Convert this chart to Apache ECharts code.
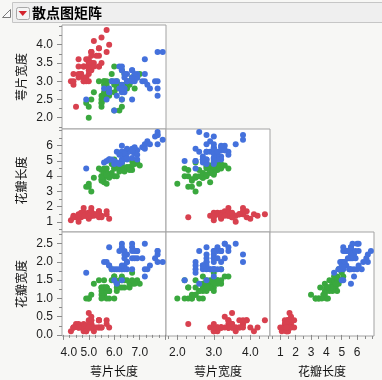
<!DOCTYPE html>
<html><head><meta charset="utf-8">
<script src="https://cdn.jsdelivr.net/npm/echarts@6/dist/echarts.min.js"></script>
<style>html,body{margin:0;padding:0;background:#f7f7f5}#c{width:382px;height:380px}</style>
</head><body><div id="c"></div>
<script>
// ---- data (Fisher iris) ----
const sepalLength = [5.1,4.9,4.7,4.6,5.0,5.4,4.6,5.0,4.4,4.9,5.4,4.8,4.8,4.3,5.8,5.7,5.4,5.1,5.7,5.1,5.4,5.1,4.6,5.1,4.8,5.0,5.0,5.2,5.2,4.7,4.8,5.4,5.2,5.5,4.9,5.0,5.5,4.9,4.4,5.1,5.0,4.5,4.4,5.0,5.1,4.8,5.1,4.6,5.3,5.0,
7.0,6.4,6.9,5.5,6.5,5.7,6.3,4.9,6.6,5.2,5.0,5.9,6.0,6.1,5.6,6.7,5.6,5.8,6.2,5.6,5.9,6.1,6.3,6.1,6.4,6.6,6.8,6.7,6.0,5.7,5.5,5.5,5.8,6.0,5.4,6.0,6.7,6.3,5.6,5.5,5.5,6.1,5.8,5.0,5.6,5.7,5.7,6.2,5.1,5.7,
6.3,5.8,7.1,6.3,6.5,7.6,4.9,7.3,6.7,7.2,6.5,6.4,6.8,5.7,5.8,6.4,6.5,7.7,7.7,6.0,6.9,5.6,7.7,6.3,6.7,7.2,6.2,6.1,6.4,7.2,7.4,7.9,6.4,6.3,6.1,7.7,6.3,6.4,6.0,6.9,6.7,6.9,5.8,6.8,6.7,6.7,6.3,6.5,6.2,5.9];
const sepalWidth = [3.5,3.0,3.2,3.1,3.6,3.9,3.4,3.4,2.9,3.1,3.7,3.4,3.0,3.0,4.0,4.4,3.9,3.5,3.8,3.8,3.4,3.7,3.6,3.3,3.4,3.0,3.4,3.5,3.4,3.2,3.1,3.4,4.1,4.2,3.1,3.2,3.5,3.6,3.0,3.4,3.5,2.3,3.2,3.5,3.8,3.0,3.8,3.2,3.7,3.3,
3.2,3.2,3.1,2.3,2.8,2.8,3.3,2.4,2.9,2.7,2.0,3.0,2.2,2.9,2.9,3.1,3.0,2.7,2.2,2.5,3.2,2.8,2.5,2.8,2.9,3.0,2.8,3.0,2.9,2.6,2.4,2.4,2.7,2.7,3.0,3.4,3.1,2.3,3.0,2.5,2.6,3.0,2.6,2.3,2.7,3.0,2.9,2.9,2.5,2.8,
3.3,2.7,3.0,2.9,3.0,3.0,2.5,2.9,2.5,3.6,3.2,2.7,3.0,2.5,2.8,3.2,3.0,3.8,2.6,2.2,3.2,2.8,2.8,2.7,3.3,3.2,2.8,3.0,2.8,3.0,2.8,3.8,2.8,2.8,2.6,3.0,3.4,3.1,3.0,3.1,3.1,3.1,2.7,3.2,3.3,3.0,2.5,3.0,3.4,3.0];
const petalLength = [1.4,1.4,1.3,1.5,1.4,1.7,1.4,1.5,1.4,1.5,1.5,1.6,1.4,1.1,1.2,1.5,1.3,1.4,1.7,1.5,1.7,1.5,1.0,1.7,1.9,1.6,1.6,1.5,1.4,1.6,1.6,1.5,1.5,1.4,1.5,1.2,1.3,1.4,1.3,1.5,1.3,1.3,1.3,1.6,1.9,1.4,1.6,1.4,1.5,1.4,
4.7,4.5,4.9,4.0,4.6,4.5,4.7,3.3,4.6,3.9,3.5,4.2,4.0,4.7,3.6,4.4,4.5,4.1,4.5,3.9,4.8,4.0,4.9,4.7,4.3,4.4,4.8,5.0,4.5,3.5,3.8,3.7,3.9,5.1,4.5,4.5,4.7,4.4,4.1,4.0,4.4,4.6,4.0,3.3,4.2,4.2,4.2,4.3,3.0,4.1,
6.0,5.1,5.9,5.6,5.8,6.6,4.5,6.3,5.8,6.1,5.1,5.3,5.5,5.0,5.1,5.3,5.5,6.7,6.9,5.0,5.7,4.9,6.7,4.9,5.7,6.0,4.8,4.9,5.6,5.8,6.1,6.4,5.6,5.1,5.6,6.1,5.6,5.5,4.8,5.4,5.6,5.1,5.1,5.9,5.7,5.2,5.0,5.2,5.4,5.1];
const petalWidth = [0.2,0.2,0.2,0.2,0.2,0.4,0.3,0.2,0.2,0.1,0.2,0.2,0.1,0.1,0.2,0.4,0.4,0.3,0.3,0.3,0.2,0.4,0.2,0.5,0.2,0.2,0.4,0.2,0.2,0.2,0.2,0.4,0.1,0.2,0.2,0.2,0.2,0.1,0.2,0.2,0.3,0.3,0.2,0.6,0.4,0.3,0.2,0.2,0.2,0.2,
1.4,1.5,1.5,1.3,1.5,1.3,1.6,1.0,1.3,1.4,1.0,1.5,1.0,1.4,1.3,1.4,1.5,1.0,1.5,1.1,1.8,1.3,1.5,1.2,1.3,1.4,1.4,1.7,1.5,1.0,1.1,1.0,1.2,1.6,1.5,1.6,1.5,1.3,1.3,1.3,1.2,1.4,1.2,1.0,1.3,1.2,1.3,1.3,1.1,1.3,
2.5,1.9,2.1,1.8,2.2,2.1,1.7,1.8,1.8,2.5,2.0,1.9,2.1,2.0,2.4,2.3,1.8,2.2,2.3,1.5,2.3,2.0,2.0,1.8,2.1,1.8,1.8,1.8,2.1,1.6,1.9,2.0,2.2,1.5,1.4,2.3,2.4,1.8,1.8,2.1,2.4,2.3,1.9,2.3,2.5,2.3,1.9,2.0,2.3,1.8];
const species = [0,0,0,0,0,0,0,0,0,0,0,0,0,0,0,0,0,0,0,0,0,0,0,0,0,0,0,0,0,0,0,0,0,0,0,0,0,0,0,0,0,0,0,0,0,0,0,0,0,0,
1,1,1,1,1,1,1,1,1,1,1,1,1,1,1,1,1,1,1,1,1,1,1,1,1,1,1,1,1,1,1,1,1,1,1,1,1,1,1,1,1,1,1,1,1,1,1,1,1,1,
2,2,2,2,2,2,2,2,2,2,2,2,2,2,2,2,2,2,2,2,2,2,2,2,2,2,2,2,2,2,2,2,2,2,2,2,2,2,2,2,2,2,2,2,2,2,2,2,2,2];
const speciesNames = ['setosa','versicolor','virginica'];
const varNames = ['萼片长度','萼片宽度','花瓣长度','花瓣宽度'];
const varData = [sepalLength, sepalWidth, petalLength, petalWidth];
const colVars = [0,1,2];   // columns: x variables
const rowVars = [1,2,3];   // rows: y variables
const title = '散点图矩阵';

// tick labels
const colLabels = [[4,5,6,7],[2,3,4],[1,2,3,4,5,6]];
const colMinor = [[4.25,4.5,4.75,5.25,5.5,5.75,6.25,6.5,6.75,7.25,7.5,7.75,8],
                  [1.75,2.25,2.5,2.75,3.25,3.5,3.75,4.25,4.5],
                  [0.5,1.5,2.5,3.5,4.5,5.5,6.5,7]];
const rowLabels = [[2.0,2.5,3.0,3.5,4.0],[1,2,3,4,5,6],[0.0,0.5,1.0,1.5,2.0,2.5]];
const rowMinor = [[1.75,2.25,2.75,3.25,3.75,4.25,4.5],
                  [0.5,1.5,2.5,3.5,4.5,5.5,6.5,7],
                  [0.25,0.75,1.25,1.75,2.25,2.75]];
const labelDigits = [1,1,0,1];
</script>
<script>
const ranges = [[3.95,8.03],[1.69,4.54],[0.33,7.1],[-0.03,2.82]];
const colors = ['#d8414f','#3aa83e','#4471dc'];
const cellLeft = [62,166,270], cellW = 104;
const cellTop = [25,129,232], cellH = [104,103,104];
const LBL = '"Liberation Sans", Arial, sans-serif';
const CJK = '"Noto Sans CJK SC", sans-serif';
const grids = [], xAxes = [], yAxes = [], series = [], minorX = [], minorY = [];
let gi = 0;
for (let r = 0; r < 3; r++) {
  for (let c = 0; c <= r; c++) {
    const xv = colVars[c], yv = rowVars[r];
    grids.push({left: cellLeft[c], top: cellTop[r], width: cellW, height: cellH[r],
      show: true, backgroundColor: '#ffffff', borderColor: '#a3a3a3', borderWidth: 1});
    const bottom = (r === 2), left = (c === 0);
    const fx = v => {
      const s = v.toFixed(labelDigits[xv]);
      return (c === 0 && v === colLabels[0][0]) ? '{p|' + s + '}' : s;
    };
    const fy = v => v.toFixed(labelDigits[yv]);
    xAxes.push({type: 'value', gridIndex: gi, position: 'bottom', min: ranges[xv][0], max: ranges[xv][1],
      axisLine: {show: false}, splitLine: {show: false},
      axisTick: {show: bottom, customValues: colLabels[c].concat(c===0?[8]:[]), length: 5, lineStyle: {color: '#8a8a8a'}},
      axisLabel: {show: bottom, customValues: colLabels[c], formatter: fx, margin: 11,
        fontSize: 12, color: '#1e1e1e', fontFamily: LBL,
        rich: {p: {padding: [0,0,0,11], fontSize: 12, color: '#1e1e1e', fontFamily: LBL}}},
      name: bottom ? varNames[xv] : '', nameLocation: 'middle', nameGap: 29,
      nameTextStyle: {fontSize: 12, color: '#111', fontFamily: CJK}
    });
    yAxes.push({type: 'value', gridIndex: gi, position: 'left', min: ranges[yv][0], max: ranges[yv][1],
      axisLine: {show: false}, splitLine: {show: false},
      axisTick: {show: left, customValues: rowLabels[r], length: 5, lineStyle: {color: '#8a8a8a'}},
      axisLabel: {show: left, customValues: rowLabels[r], formatter: fy, margin: 9,
        fontSize: 12, color: '#1e1e1e', fontFamily: LBL},
      name: left ? varNames[yv] : '', nameLocation: 'middle', nameGap: 35, nameRotate: 90,
      nameTextStyle: {fontSize: 12, color: '#111', fontFamily: CJK}
    });
    if (bottom) minorX.push({type: 'value', gridIndex: gi, position: 'bottom', min: ranges[xv][0], max: ranges[xv][1],
      axisLine: {show: false}, splitLine: {show: false}, axisLabel: {show: false},
      axisTick: {show: true, customValues: colMinor[c], length: 3, lineStyle: {color: '#8a8a8a'}}});
    if (left) minorY.push({type: 'value', gridIndex: gi, position: 'left', min: ranges[yv][0], max: ranges[yv][1],
      axisLine: {show: false}, splitLine: {show: false}, axisLabel: {show: false},
      axisTick: {show: true, customValues: rowMinor[r], length: 3, lineStyle: {color: '#8a8a8a'}}});
    for (let s = 0; s < 3; s++) {
      const pts = [];
      for (let k = 0; k < species.length; k++) if (species[k] === s) pts.push([varData[xv][k], varData[yv][k]]);
      series.push({type: 'scatter', name: speciesNames[s], xAxisIndex: gi, yAxisIndex: gi, data: pts,
        symbolSize: 6, itemStyle: {color: colors[s], opacity: 1}, silent: true});
    }
    gi++;
  }
}
const chart = echarts.init(document.getElementById('c'), null, {renderer: 'canvas'});
chart.setOption({
  animation: false,
  backgroundColor: '#f7f7f5',
  grid: grids,
  xAxis: xAxes.concat(minorX),
  yAxis: yAxes.concat(minorY),
  series: series,
  graphic: [
    {type: 'rect', shape: {x: 12.5, y: 2.5, width: 372, height: 20}, style: {fill: '#efefef', stroke: '#c6c6c6', lineWidth: 1}},
    {type: 'polygon', shape: {points: [[2.5,17.5],[10.5,17.5],[10.5,9.5]]}, style: {fill: '#fafafa', stroke: '#7a7a7a', lineWidth: 1}},
    {type: 'rect', shape: {x: 16.5, y: 7.5, width: 13, height: 12, r: 2}, style: {fill: '#f4f4f4', stroke: '#a8a8a8', lineWidth: 1}},
    {type: 'polygon', shape: {points: [[18.5,11],[27,11],[22.75,16]]}, style: {fill: '#d3232d'}},
    {type: 'text', x: 32, y: 13, style: {text: title, font: 'bold 14px "Noto Sans CJK SC", sans-serif', fill: '#000', verticalAlign: 'middle'}}
  ]
});
</script>
</body></html>
